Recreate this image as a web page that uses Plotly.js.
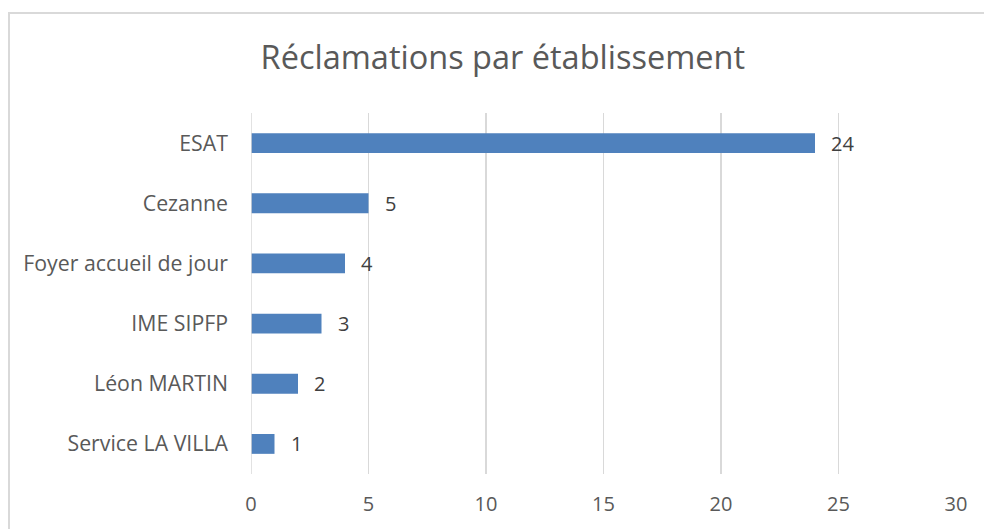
<!DOCTYPE html>
<html>
<head>
<meta charset="utf-8">
<script src="https://cdn.plot.ly/plotly-3.0.1.min.js"></script>
<style>
  html, body { margin: 0; padding: 0; background: #fff; }
  #wrap { position: relative; width: 984px; height: 529px; overflow: hidden; }
  #chart { position: absolute; left: 0; top: 0; width: 984px; height: 529px; }
  #frame { position: absolute; left: 8px; top: 12px; width: 1000px; height: 600px;
           border-left: 2px solid #D9D9D9; border-top: 2px solid #D9D9D9; pointer-events: none; }
</style>
</head>
<body>
<div id="wrap">
  <div id="chart"></div>
  <div id="frame"></div>
</div>
<script>
const categories = ["ESAT", "Cezanne", "Foyer accueil de jour", "IME SIPFP", "Léon MARTIN", "Service LA VILLA"];
const values = [24, 5, 4, 3, 2, 1];
const tickValues = [0, 5, 10, 15, 20, 25, 30];

const font = "'Open Sans', 'Liberation Sans', sans-serif";

const trace = {
  type: "bar",
  orientation: "h",
  x: values,
  y: categories,
  marker: { color: "#4F81BD", line: { color: "#4F81BD", width: 0 } },
  hoverinfo: "none"
};

const annotations = values.map((v, i) => ({
  x: v, y: categories[i], xref: "x", yref: "y",
  text: String(v), showarrow: false, xanchor: "left", yanchor: "middle",
  xshift: 14, font: { family: font, size: 20, color: "#404040" }
}));

const layout = {
  width: 984, height: 529,
  margin: { l: 251, r: 28, t: 113, b: 55, pad: 0 },
  paper_bgcolor: "#ffffff", plot_bgcolor: "#ffffff",
  title: { text: "Réclamations par établissement", x: 0.511, xanchor: "center", y: 0.892, yanchor: "middle",
           font: { family: font, size: 32.5, color: "#595959" } },
  bargap: 0.67,
  showlegend: false,
  xaxis: {
    range: [0, 30], tickvals: tickValues, ticktext: tickValues.map(String),
    showgrid: true, gridcolor: "#D9D9D9", gridwidth: 1.5, zeroline: false,
    showline: false, ticks: "", ticklen: 0, fixedrange: true,
    tickfont: { family: font, size: 20, color: "#595959" }, automargin: false,
    ticklabelstandoff: 16
  },
  yaxis: {
    autorange: "reversed", type: "category",
    showgrid: false, zeroline: false, showline: false, ticks: "",
    tickfont: { family: font, size: 21.3, color: "#595959" }, automargin: false,
    ticklabelstandoff: 22
  },
  shapes: [{ type: "line", xref: "x", yref: "paper", x0: 0, x1: 0, y0: 0, y1: 1,
             line: { color: "#D9D9D9", width: 1.5 } }],
  annotations: annotations
};

Plotly.newPlot("chart", [trace], layout, { staticPlot: true, displayModeBar: false });
</script>
</body>
</html>
